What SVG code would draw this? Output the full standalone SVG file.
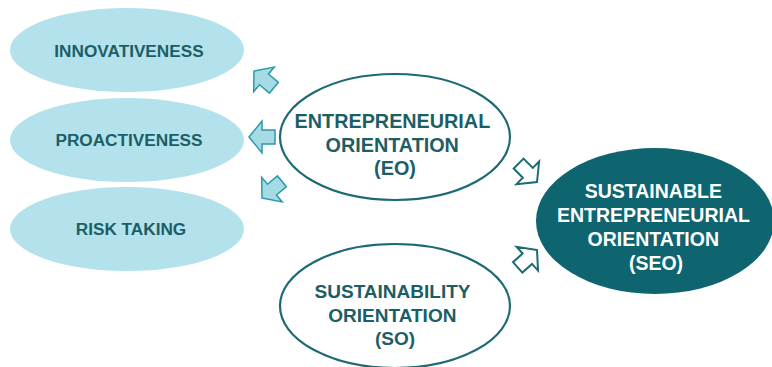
<svg xmlns="http://www.w3.org/2000/svg" width="772" height="367" viewBox="0 0 772 367">
  <style>
    .dim { fill: #b3e2ec; stroke: none; }
    .ring { fill: #ffffff; stroke: #1d6a72; stroke-width: 2.2; }
    .core { fill: #0e6570; stroke: none; }
    .t { font-family: "Liberation Sans", Arial, sans-serif; font-weight: bold; text-anchor: middle; }
    .dark { fill: #1c5e66; }
    .light { fill: #ffffff; }
    .out { fill: #a6dbe6; stroke: #2a9aab; stroke-width: 1.5; stroke-linejoin: miter; }
    .in { fill: #ffffff; stroke: #1d6a72; stroke-width: 2; stroke-linejoin: miter; }
  </style>
  <defs>
    <!-- block arrow pointing +x, tip at origin -->
    <polygon id="blk" points="0,0 -13,-16 -13,-7 -26,-7 -26,7 -13,7 -13,16"/>
  </defs>
  <rect width="772" height="367" fill="#ffffff"/>

  <g id="innovativeness">
    <ellipse class="dim" cx="127" cy="50" rx="117" ry="42"/>
    <text class="t dark" x="129" y="57" font-size="17.2">INNOVATIVENESS</text>
  </g>
  <g id="proactiveness">
    <ellipse class="dim" cx="127" cy="140" rx="117" ry="42"/>
    <text class="t dark" x="129" y="146" font-size="17.2">PROACTIVENESS</text>
  </g>
  <g id="risk-taking">
    <ellipse class="dim" cx="127" cy="229" rx="117" ry="42"/>
    <text class="t dark" x="131" y="235" font-size="17.2">RISK TAKING</text>
  </g>

  <g id="eo">
    <ellipse class="ring" cx="395" cy="137" rx="115" ry="63"/>
    <text class="t dark" font-size="19.8">
      <tspan x="395" y="128">ENTREPRENEURIAL</tspan>
      <tspan x="395" y="152">ORIENTATION</tspan>
      <tspan x="395" y="175">(EO)</tspan>
    </text>
  </g>

  <g id="so">
    <ellipse class="ring" cx="395" cy="306" rx="115" ry="62"/>
    <text class="t dark" font-size="19">
      <tspan x="395" y="298">SUSTAINABILITY</tspan>
      <tspan x="395" y="322">ORIENTATION</tspan>
      <tspan x="395" y="345">(SO)</tspan>
    </text>
  </g>

  <g id="seo">
    <ellipse class="core" cx="655" cy="221" rx="119" ry="73"/>
    <text class="t light" font-size="19.5">
      <tspan x="656" y="198">SUSTAINABLE</tspan>
      <tspan x="656" y="222">ENTREPRENEURIAL</tspan>
      <tspan x="656" y="246">ORIENTATION</tspan>
      <tspan x="656" y="270">(SEO)</tspan>
    </text>
  </g>

  <g id="connectors">
    <use href="#blk" class="out" transform="translate(254,71) rotate(-140)"/>
    <use href="#blk" class="out" transform="translate(249,137) rotate(180)"/>
    <use href="#blk" class="out" transform="translate(262,198) rotate(140)"/>
    <use href="#blk" class="in" transform="translate(537,182) rotate(45)"/>
    <use href="#blk" class="in" transform="translate(537,250) rotate(-42)"/>
  </g>
</svg>
